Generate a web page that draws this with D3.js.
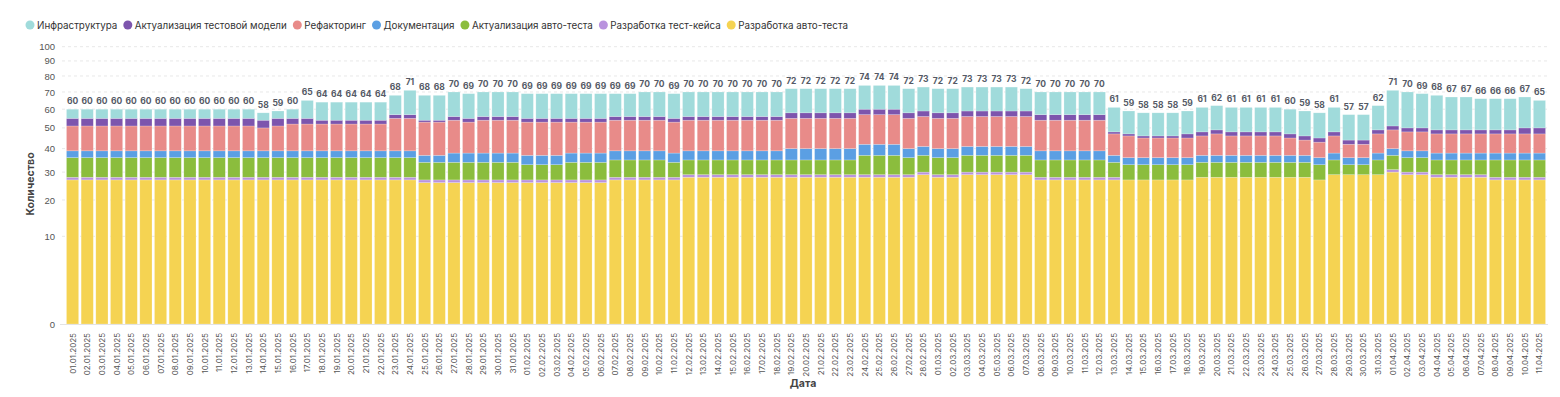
<!DOCTYPE html>
<html>
<head>
<meta charset="utf-8">
<script src="https://cdn.jsdelivr.net/npm/d3@7.9.0/dist/d3.min.js"></script>
<style>
  body { margin: 0; background: #fff; }
  svg { font-family: Inter, "Noto Sans", sans-serif; }
</style>
</head>
<body>
<svg id="chart" width="1560" height="397"></svg>
<script>
// series, bottom to top
const seriesNames = ['Разработка авто-теста', 'Разработка тест-кейса', 'Актуализация авто-теста',
  'Документация', 'Рефакторинг', 'Актуализация тестовой модели', 'Инфраструктура'];
const legendOrder = ['Инфраструктура', 'Актуализация тестовой модели', 'Рефакторинг', 'Документация',
  'Актуализация авто-теста', 'Разработка тест-кейса', 'Разработка авто-теста'];
const seriesColors = ['#f5d352', '#b993de', '#8bbd3d', '#5b9fe3', '#e88b89', '#7d55ad', '#a0dbdb'];

const dates = d3.timeDay.range(new Date(2025, 0, 1), new Date(2025, 3, 12))
  .map(d3.timeFormat('%d.%m.%Y'));

const autoTest = [27,27,27,27,27,27,27,27,27,27,27,27,27,27,27,27,27,27,27,27,27,27,27,27,26,26,26,26,26,26,26,26,26,26,26,26,26,27,27,27,27,27,28,28,28,28,28,28,28,28,28,28,28,28,28,28,28,28,29,28,28,29,29,29,29,29,27,27,27,27,27,27,27,27,27,27,27,28,28,28,28,28,28,28,28,27,29,29,29,29,30,29,29,28,28,28,28,27,27,27,27];
const testCase = [1,1,1,1,1,1,1,1,1,1,1,1,1,1,1,1,1,1,1,1,1,1,1,1,1,1,1,1,1,1,1,1,1,1,1,1,1,1,1,1,1,1,1,1,1,1,1,1,1,1,1,1,1,1,1,1,1,1,1,1,1,1,1,1,1,1,1,1,1,1,1,1,0,0,0,0,0,0,0,0,0,0,0,0,0,0,0,0,0,0,1,1,1,1,1,1,1,1,1,1,1];
const autoTestUpd = [8,8,8,8,8,8,8,8,8,8,8,8,8,8,8,8,8,8,8,8,8,8,8,8,7,7,7,7,7,7,7,6,6,6,7,7,7,7,7,7,7,6,6,6,6,6,6,6,6,6,6,6,6,6,8,8,8,7,7,7,7,7,7,7,7,7,7,7,7,7,7,6,6,6,6,6,6,6,6,6,6,6,6,6,6,6,6,4,4,6,6,6,6,6,6,6,6,7,7,7,7];
const docs = [3,3,3,3,3,3,3,3,3,3,3,3,3,3,3,3,3,3,3,3,3,3,3,3,3,3,4,4,4,4,4,4,4,4,4,4,4,4,4,4,4,4,4,4,4,4,4,4,4,5,5,5,5,5,5,5,5,4,4,4,4,4,4,4,4,4,4,4,4,4,4,3,3,3,3,3,3,3,3,3,3,3,3,3,3,3,3,3,3,3,3,3,3,3,3,3,3,3,3,3,3];
const refactor = [12,12,12,12,12,12,12,12,12,12,12,12,12,11,12,13,13,13,13,13,13,13,16,16,16,16,16,15,16,16,16,16,16,16,15,15,15,15,15,15,15,15,15,15,15,15,15,15,15,15,15,15,15,15,15,15,15,15,15,15,15,15,15,15,15,15,15,15,15,15,15,10,10,9,9,9,9,9,10,9,9,9,9,8,7,7,8,6,6,9,9,9,9,9,9,9,9,9,9,9,9];
const modelUpd = [4,4,4,4,4,4,4,4,4,4,4,4,4,4,4,3,3,2,2,2,2,2,2,2,1,1,2,2,2,2,2,2,2,2,2,2,2,2,2,2,2,2,2,2,2,2,2,2,2,3,3,3,3,3,3,3,3,3,3,3,3,3,3,3,3,3,3,3,3,3,3,1,1,1,1,1,2,2,2,2,2,2,2,2,2,2,2,2,2,2,2,2,2,2,2,2,2,2,2,3,3];
const infra = [5,5,5,5,5,5,5,5,5,5,5,5,5,4,4,5,10,10,10,10,10,10,11,14,14,14,14,14,14,14,14,14,14,14,14,14,14,13,13,14,14,14,14,14,14,14,14,14,14,14,14,14,14,14,14,14,14,14,14,14,14,14,14,14,14,13,13,13,13,13,13,13,12,12,12,12,12,13,13,13,13,13,13,13,13,13,13,13,13,13,20,20,19,19,18,18,17,17,17,17,15];

const seriesValues = [autoTest, testCase, autoTestUpd, docs, refactor, modelUpd, infra];

const rows = dates.map((d, i) => {
  const row = { date: d };
  seriesNames.forEach((s, k) => { row[s] = seriesValues[k][i]; });
  return row;
});

const svg = d3.select('#chart');
const x = d3.scaleBand().domain(dates).range([65, 1547]).paddingInner(0.17).paddingOuter(0.1);
const y = d3.scaleSqrt().domain([0, 100]).range([324, 46.7]);
const color = d3.scaleOrdinal().domain(seriesNames).range(seriesColors);

// grid
const ticks = [0, 10, 20, 30, 40, 50, 60, 70, 80, 90, 100];
svg.append('g').selectAll('line').data(ticks.slice(1)).join('line')
  .attr('x1', 62).attr('x2', 1548)
  .attr('y1', d => y(d)).attr('y2', d => y(d))
  .attr('stroke', '#e8e8e8').attr('stroke-dasharray', '3,3');

// y axis
const yAxis = svg.append('g').attr('transform', 'translate(62,0)')
  .call(d3.axisLeft(y).tickValues(ticks).tickSize(3).tickPadding(4));
yAxis.select('.domain').remove();
yAxis.selectAll('line').attr('stroke', '#fff');
yAxis.selectAll('text').attr('fill', '#555').attr('font-size', 9.5);

// stacks
const stack = d3.stack().keys(seriesNames);
const layers = stack(rows);
svg.append('g').selectAll('g').data(layers).join('g')
  .attr('fill', d => color(d.key))
  .selectAll('rect').data(d => d).join('rect')
  .attr('x', d => x(d.data.date))
  .attr('width', x.bandwidth())
  .attr('y', d => y(d[1]))
  .attr('height', d => Math.max(0, y(d[0]) - y(d[1])))
  .attr('stroke', '#fff').attr('stroke-opacity', 0.35).attr('stroke-width', 0.6);

// x axis
svg.append('line').attr('x1', 60).attr('x2', 1548).attr('y1', 324.5).attr('y2', 324.5)
  .attr('stroke', '#e3e3e3');
svg.append('g').selectAll('text').data(dates).join('text')
  .attr('transform', d => `translate(${x(d) + x.bandwidth() / 2 + 3},333) rotate(-90)`)
  .attr('text-anchor', 'end')
  .attr('font-size', 8).attr('fill', '#555')
  .text(d => d);

// totals
svg.append('g').selectAll('text').data(rows).join('text')
  .attr('x', d => x(d.date) + x.bandwidth() / 2)
  .attr('y', d => y(d3.sum(seriesNames, s => d[s])) - 5)
  .attr('text-anchor', 'middle')
  .attr('font-size', 8.5).attr('font-weight', 700).attr('fill', '#555a66')
  .text(d => d3.sum(seriesNames, s => d[s]));

// titles
svg.append('text').attr('transform', 'translate(34,184) rotate(-90)')
  .attr('text-anchor', 'middle').attr('font-size', 10.5).attr('font-weight', 700)
  .attr('fill', '#444').text('Количество');
svg.append('text').attr('x', 803).attr('y', 387)
  .attr('text-anchor', 'middle').attr('font-size', 10.5).attr('font-weight', 700)
  .attr('fill', '#444').text('Дата');

// legend
const legend = svg.append('g').attr('transform', 'translate(30,25)');
let lx = 0;
legendOrder.forEach(name => {
  const g = legend.append('g').attr('transform', `translate(${lx},0)`);
  g.append('circle').attr('r', 4.5).attr('fill', color(name));
  const t = g.append('text').attr('x', 7).attr('y', 3.5)
    .attr('font-size', 9.8).attr('fill', '#333').text(name);
  lx += 7 + t.node().getComputedTextLength() + 10.5;
});
</script>
</body>
</html>
